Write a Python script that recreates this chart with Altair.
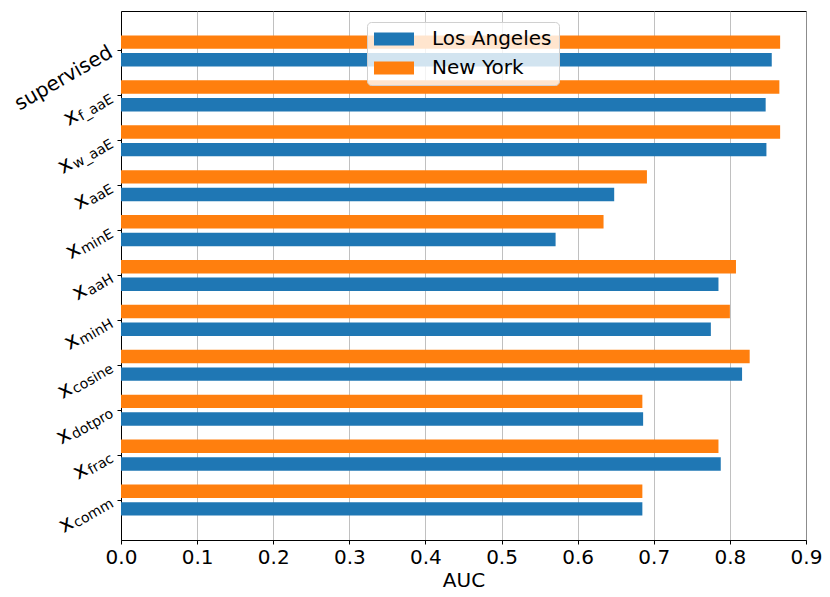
import altair as alt
import pandas as pd

# ---- data ----
methods = ["supervised", "f_aaE", "w_aaE", "aaE", "minE", "aaH", "minH",
           "cosine", "dotpro", "frac", "comm"]
los_angeles = [0.855, 0.847, 0.848, 0.648, 0.571, 0.785, 0.775, 0.816, 0.686, 0.788, 0.685]
new_york = [0.866, 0.865, 0.866, 0.691, 0.634, 0.808, 0.800, 0.826, 0.685, 0.785, 0.685]
cities = ["Los Angeles", "New York"]
city_colors = ["#1f77b4", "#ff7f0e"]
x_ticks = [0.0, 0.1, 0.2, 0.3, 0.4, 0.5, 0.6, 0.7, 0.8, 0.9]

rows = []
for m, a, b in zip(methods, los_angeles, new_york):
    rows.append({"method": m, "city": "Los Angeles", "auc": a})
    rows.append({"method": m, "city": "New York", "auc": b})
df = pd.DataFrame(rows)
lab = pd.DataFrame({"method": methods})

FONT = "DejaVu Sans"
MAIN_FS = 20
X_FS = 22
SUB_FS = 14
ANGLE = 330
LABEL_X = -10

# approximate DejaVu Sans advance widths (em) for measuring subscripts
W = {'a': 0.613, 'E': 0.632, 'f': 0.352, '_': 0.5, 'w': 0.818, 'm': 0.974,
     'i': 0.278, 'n': 0.634, 'H': 0.752, 'c': 0.55, 'o': 0.612, 's': 0.521,
     'e': 0.615, 'd': 0.635, 't': 0.392, 'p': 0.635, 'r': 0.411}


def sub_width(s):
    return sum(W.get(ch, 0.6) for ch in s) * SUB_FS


y_scale = alt.Scale(domain=methods, paddingInner=0, paddingOuter=0.39)
y_axis = alt.Axis(labels=False, title=None, ticks=True, tickSize=4, grid=False,
                  domainColor="black", tickColor="black")

bars = alt.Chart(df).mark_bar().encode(
    x=alt.X("auc:Q",
            scale=alt.Scale(domain=[0, 0.9], nice=False, zero=True),
            axis=alt.Axis(values=x_ticks, format=".1f", title="AUC",
                          grid=True, gridColor="#b0b0b0", gridWidth=0.8,
                          tickSize=4, labelPadding=3, titlePadding=3,
                          labelFontSize=20, titleFontSize=20,
                          labelFlush=False)),
    y=alt.Y("method:N", scale=y_scale, sort=methods, axis=y_axis),
    yOffset=alt.YOffset("city:N", sort=["New York", "Los Angeles"],
                        scale=alt.Scale(paddingInner=0.24, paddingOuter=0.39)),
    color=alt.Color("city:N",
                    scale=alt.Scale(domain=cities, range=city_colors),
                    legend=alt.Legend(title=None, orient="none",
                                      legendX=246, legendY=11,
                                      symbolType="M-1,-0.66H3V0.66H-1Z",
                                      symbolSize=400, symbolStrokeWidth=0,
                                      symbolOpacity=1,
                                      labelFont=FONT, labelFontSize=20,
                                      labelColor="black", labelOffset=38,
                                      rowPadding=9, padding=7,
                                      fillColor="rgba(255,255,255,0.8)",
                                      strokeColor="#d0d0d0", cornerRadius=4)),
)

layers = [bars]

# "supervised" label
layers.append(
    alt.Chart(lab).transform_filter(alt.datum.method == "supervised")
    .mark_text(align="right", baseline="middle", angle=ANGLE, font=FONT,
               fontSize=MAIN_FS, color="black")
    .encode(x=alt.value(LABEL_X),
            y=alt.Y("method:N", scale=y_scale, sort=methods, axis=y_axis),
            text="method:N")
)

# subscripts
layers.append(
    alt.Chart(lab).transform_filter(alt.datum.method != "supervised")
    .mark_text(align="right", baseline="middle", angle=ANGLE, font=FONT,
               fontSize=SUB_FS, color="black", dy=3)
    .encode(x=alt.value(LABEL_X),
            y=alt.Y("method:N", scale=y_scale, sort=methods, axis=y_axis),
            text="method:N")
)

# the big "x" in front of each subscript
for m in methods[1:]:
    layers.append(
        alt.Chart(lab).transform_filter(alt.datum.method == m)
        .transform_calculate(base="'x'")
        .mark_text(align="right", baseline="middle", angle=ANGLE, font=FONT,
                   fontSize=X_FS, color="black",
                   dx=-(sub_width(m) + 1), dy=-2)
        .encode(x=alt.value(LABEL_X),
                y=alt.Y("method:N", scale=y_scale, sort=methods, axis=y_axis),
                text="base:N")
    )

chart = alt.layer(*layers).properties(
    width=685, height=529,
    autosize=alt.AutoSizeParams(type="none"),
    padding={"left": 113, "top": 3, "right": 16, "bottom": 54},
).configure_view(
    stroke="black", strokeWidth=1
).configure_axis(
    labelFont=FONT, titleFont=FONT, labelColor="black", titleColor="black",
    titleFontWeight="normal", domainColor="black", tickColor="black",
)

chart.save("out.html", embed_options={"renderer": "svg", "actions": False})
